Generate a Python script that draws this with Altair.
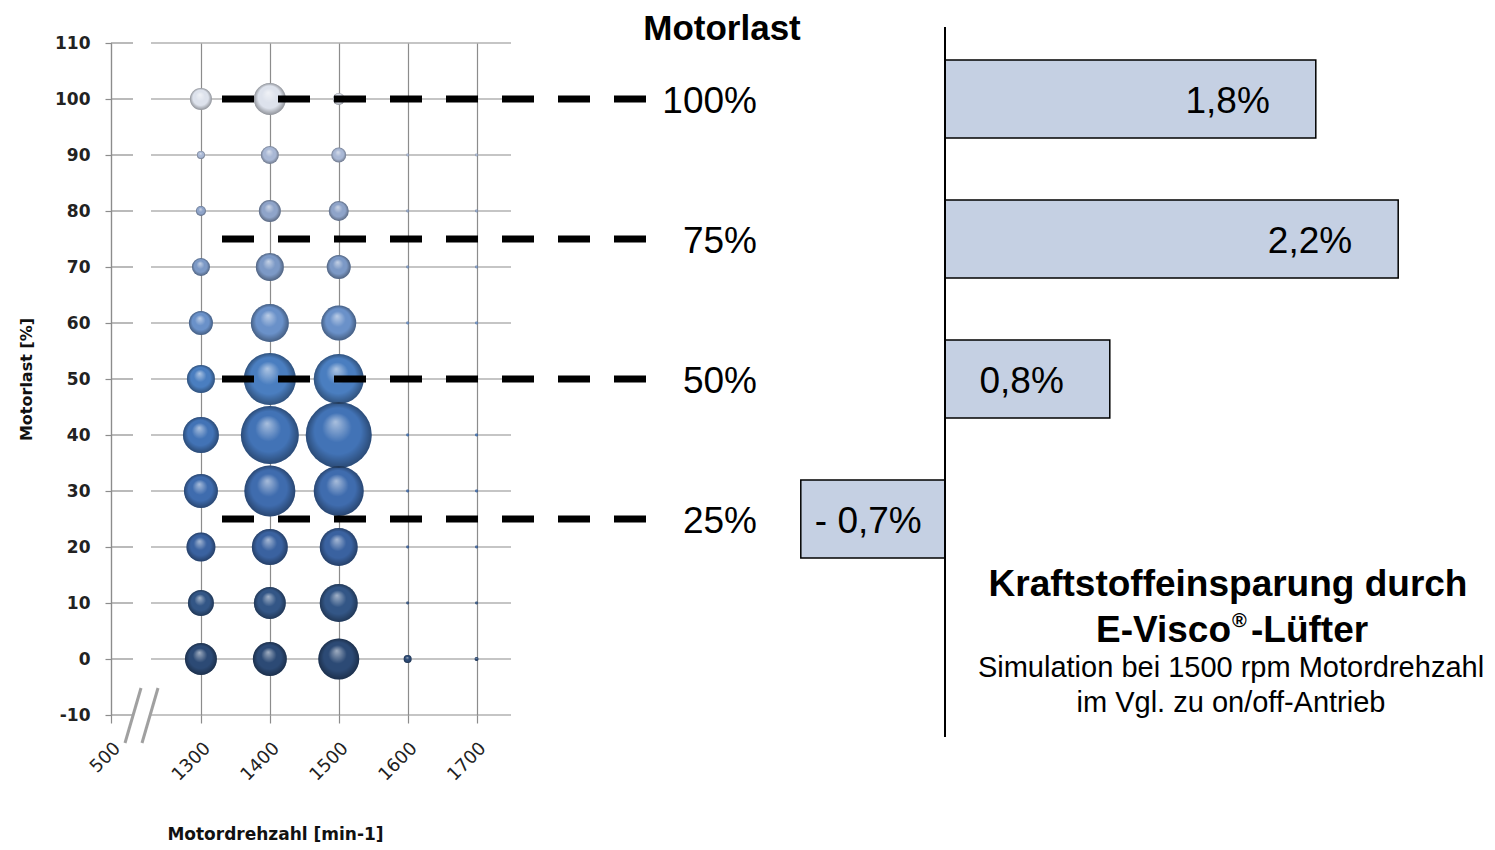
import altair as alt
import pandas as pd

# ---------------- data ----------------
drehzahl = [1300, 1400, 1500, 1600, 1700]
last_stufen = [0, 10, 20, 30, 40, 50, 60, 70, 80, 90, 100]
# relative dwell share per operating point (bottom 0 % -> top 100 %)
anteil_1300 = [256, 169, 210, 289, 324, 196, 144, 81, 25, 16, 121]
anteil_1400 = [289, 256, 324, 650, 841, 676, 361, 196, 121, 81, 256]
anteil_1500 = [420, 361, 361, 625, 1089, 625, 306, 144, 100, 56, 36]
anteil_1600 = [16, 2, 2, 2, 2, 2, 2, 2, 2, 2, 2]
anteil_1700 = [4, 2, 2, 2, 2, 2, 2, 2, 2, 2, 2]
bubble_farben = ["#2c4a75", "#335686", "#3a62a0", "#3f6cae", "#4273b6", "#4a7ec0",
                 "#6a91c9", "#7c99c6", "#8fa4c9", "#a9b8d5", "#dde2ec"]

x_ticks = [500, 1300, 1400, 1500, 1600, 1700]
y_ticks = [-10, 0, 10, 20, 30, 40, 50, 60, 70, 80, 90, 100, 110]

lastpunkte = [100, 75, 50, 25]
last_labels = ["100%", "75%", "50%", "25%"]
einsparung = [1.8, 2.2, 0.8, -0.7]
einsparung_labels = ["1,8%", "2,2%", "0,8%", "- 0,7%"]

# ---------------- tables ----------------
rows = []
for rpm, werte in zip(drehzahl, [anteil_1300, anteil_1400, anteil_1500, anteil_1600, anteil_1700]):
    for last, w in zip(last_stufen, werte):
        rows.append({"Drehzahl": rpm, "Last": last, "Anteil": w})
df_bub = pd.DataFrame(rows)
df_grid = pd.DataFrame({"Last": y_ticks})
df_last = pd.DataFrame({"Last": lastpunkte, "Label": last_labels})
df_bar = pd.DataFrame({"Last": lastpunkte, "Wert": einsparung, "Label": einsparung_labels})
one = pd.DataFrame({"k": [0]})

ARIAL = "Liberation Sans"
AXF = "DejaVu Sans"
GRID = "#8c8c8c"

yscale = alt.Scale(domain=[-10, 110], nice=False, zero=False, padding=0)
xscale = alt.Scale(domain=[500, 1230, 1750], range=[0, 41.7, 400], nice=False, zero=False, padding=0)
barscale = alt.Scale(domain=[-1, 3], range=[628, 1452], nice=False, zero=False, padding=0)

y_axis = alt.Axis(values=y_ticks, tickSize=6, tickColor=GRID, tickWidth=1.2,
                  domainColor=GRID, domainWidth=1.2, grid=False,
                  labelExpr="'' + datum.value",
                  labelFont=AXF, labelFontSize=17, labelFontWeight="bold", labelColor="#222",
                  labelPadding=15, title="Motorlast [%]", titleFont=AXF, titleFontSize=16,
                  titleFontWeight="bold", titleColor="#111", titleX=-80, titleY=336,
                  titleAngle=-90, titleAlign="center", titleBaseline="alphabetic")
x_axis = alt.Axis(values=x_ticks, grid=True, gridColor=GRID, gridWidth=1.2, domain=False,
                  tickSize=8, tickColor=GRID, tickWidth=1.2, labelAngle=-45,
                  labelExpr="'' + datum.value",
                  labelFont=AXF, labelFontSize=18, labelFontWeight="normal", labelColor="#222",
                  labelPadding=16, title="Motordrehzahl [min-1]", titleFont=AXF,
                  titleFontSize=17, titleFontWeight="bold", titleColor="#111",
                  titleX=164, titleY=124, titleAlign="center", titleBaseline="alphabetic")

Y = lambda: alt.Y("Last:Q", scale=yscale, axis=y_axis)

grid_h = alt.Chart(df_grid).mark_rule(color=GRID, strokeWidth=1.2).encode(
    y=Y(), x=alt.value(40), x2=alt.value(400))
stubs = alt.Chart(df_grid).mark_rule(color=GRID, strokeWidth=1.2).encode(
    y=Y(), x=alt.value(0), x2=alt.value(22))

bub_base = alt.Chart(df_bub).encode(
    x=alt.X("Drehzahl:Q", scale=xscale, axis=x_axis),
    y=Y(),
    size=alt.Size("Anteil:Q", scale=alt.Scale(domain=[0, 1000], range=[0, 4000]), legend=None),
)
bubbles = bub_base.mark_circle(opacity=1).encode(
    color=alt.Color("Last:O", scale=alt.Scale(domain=last_stufen, range=bubble_farben), legend=None))
shine = bub_base.mark_circle(opacity=1, fill=alt.RadialGradient(
    gradient="radial", x1=0.45, y1=0.3, r1=0, x2=0.5, y2=0.5, r2=0.5,
    stops=[alt.GradientStop(color="rgba(255,255,255,0.55)", offset=0),
           alt.GradientStop(color="rgba(255,255,255,0.0)", offset=0.45),
           alt.GradientStop(color="rgba(0,0,0,0.0)", offset=0.7),
           alt.GradientStop(color="rgba(0,0,0,0.35)", offset=1)]))

bubble_layer = alt.layer(grid_h, stubs, bubbles, shine)

slash1 = alt.Chart(one).mark_rule(color="#a0a0a0", strokeWidth=3).encode(
    x=alt.value(14), y=alt.value(700), x2=alt.value(30), y2=alt.value(645))
slash2 = alt.Chart(one).mark_rule(color="#a0a0a0", strokeWidth=3).encode(
    x=alt.value(31), y=alt.value(700), x2=alt.value(47), y2=alt.value(645))

dashes = alt.Chart(df_last).mark_rule(color="black", strokeWidth=7, strokeDash=[32, 24]).encode(
    y=Y(), x=alt.value(111), x2=alt.value(537))
dash_text = alt.Chart(df_last).mark_text(font=ARIAL, fontSize=37, align="right",
                                         baseline="alphabetic", dy=14, color="black").encode(
    y=Y(), x=alt.value(646), text="Label:N")

bars = alt.Chart(df_bar).mark_bar(orient="horizontal", size=78, fill="#c5d0e3",
                                  stroke="black", strokeWidth=1.5).encode(
    x=alt.X("Wert:Q", scale=barscale, axis=None), x2=alt.datum(0), y=Y())
bar_pos = alt.Chart(df_bar).transform_filter("datum.Wert > 0").mark_text(
    font=ARIAL, fontSize=37, align="right", baseline="alphabetic", dx=-46, dy=14, color="black").encode(
    x=alt.X("Wert:Q", scale=barscale, axis=None), y=Y(), text="Label:N")
bar_neg = alt.Chart(df_bar).transform_filter("datum.Wert < 0").mark_text(
    font=ARIAL, fontSize=37, align="left", baseline="alphabetic", dx=14, dy=14, color="black").encode(
    x=alt.X("Wert:Q", scale=barscale, axis=None), y=Y(), text="Label:N")
zero = alt.Chart(one).mark_rule(color="black", strokeWidth=2).encode(
    x=alt.X("k:Q", scale=barscale, axis=None), y=alt.value(-16), y2=alt.value(694))
bar_layer = alt.layer(bars, bar_pos, bar_neg, zero)


def note(text, x, y, size, weight="normal", align="center"):
    return alt.Chart(pd.DataFrame({"t": [text]})).mark_text(
        font=ARIAL, fontSize=size, fontWeight=weight, align=align,
        baseline="alphabetic", color="black").encode(
        x=alt.value(x), y=alt.value(y), text="t:N")


notes = alt.layer(
    note("Motorlast", 611, -3, 35, "bold"),
    note("Kraftstoffeinsparung durch", 1117, 553, 37, "bold"),
    note("E-Visco", 1120, 599, 37, "bold", "right"),
    note("®", 1121, 584, 20, "bold", "left"),
    note("-Lüfter", 1140, 599, 37, "bold", "left"),
    note("Simulation bei 1500 rpm Motordrehzahl", 1120, 634, 29),
    note("im Vgl. zu on/off-Antrieb", 1120, 669, 29),
)

chart = alt.layer(
    bubble_layer, slash1, slash2, dashes, dash_text, bar_layer, notes
).resolve_scale(x="independent").properties(
    width=1370, height=672,
    background="white",
    autosize=alt.AutoSizeParams(type="none"),
    padding={"left": 103, "top": 35, "right": 6, "bottom": 127},
).configure_view(stroke="transparent", strokeWidth=0)

chart.save("out.html", embed_options={"renderer": "svg", "actions": False})
